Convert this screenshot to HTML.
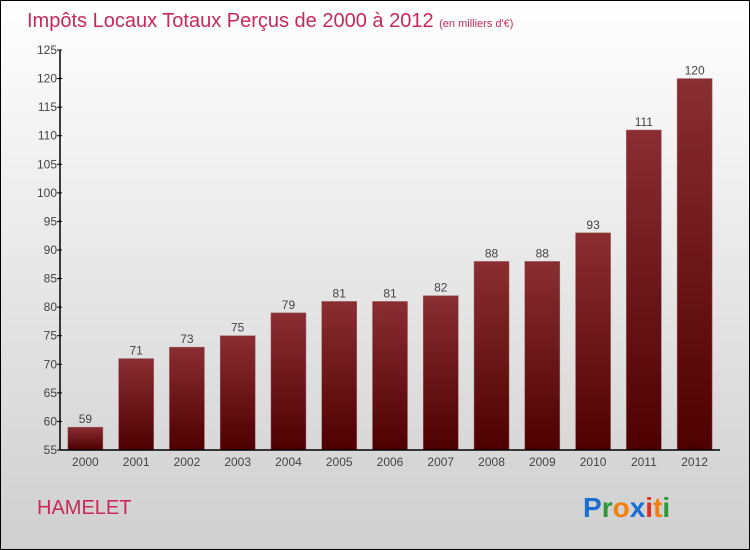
<!DOCTYPE html>
<html><head><meta charset="utf-8"><style>
body{margin:0}
#c{position:relative;width:748px;height:548px;border:1px solid #000;background:linear-gradient(#ffffff,#cfcfcf);overflow:hidden;font-family:"Liberation Sans",sans-serif}
</style></head><body>
<div id="c">
<svg id="s" width="748" height="548" style="position:absolute;left:0;top:0">
<defs><linearGradient id="bg" x1="0" y1="0" x2="0" y2="1"><stop offset="0" stop-color="#8a2e32"/><stop offset="1" stop-color="#4e0000"/></linearGradient></defs>
<text x="26" y="26" font-size="20" fill="#c8285a">Impôts Locaux Totaux Perçus de 2000 à 2012 <tspan font-size="11">(en milliers d'€)</tspan></text>
<text x="36" y="513" font-size="20" fill="#c8285a">HAMELET</text>
<g font-size="28" font-weight="bold">
<text x="582" y="516" fill="#1a6fd0">P<tspan fill="#2a9a3a">r</tspan><tspan fill="#f08010">o</tspan><tspan fill="#1a6fd0">x</tspan><tspan fill="#e03020">i</tspan><tspan fill="#f08010">t</tspan><tspan fill="#2a9a3a">i</tspan></text></g>
<g id="plot"></g>
</svg>
</div>
<script>
const categories=["2000","2001","2002","2003","2004","2005","2006","2007","2008","2009","2010","2011","2012"];
const values=[59,71,73,75,79,81,81,82,88,88,93,111,120];
const ticks=[55,60,65,70,75,80,85,90,95,100,105,110,115,120,125];
const x0=59,x1=719,y0=449,y1=49,vmin=55,vmax=125;
const ns="http://www.w3.org/2000/svg";
const g=document.getElementById('plot');
const bw=(x1-x0)/categories.length;
function ys(v){return y0-(v-vmin)/(vmax-vmin)*(y0-y1);}
function mk(t,a){const e=document.createElementNS(ns,t);for(const k in a)e.setAttribute(k,a[k]);g.appendChild(e);return e;}
categories.forEach((c,i)=>{
 const cx=x0+bw*(i+0.5),y=ys(values[i]);
 const r=mk('rect',{x:cx-17.5,y:y,width:35,height:y0-y,fill:'url(#bg)',stroke:'#a06060','stroke-width':0.5});
 
 
 const t=mk('text',{x:cx,y:y-4,'text-anchor':'middle','font-size':12,fill:'#444'});t.textContent=values[i];
 
 
 const l=mk('text',{x:cx,y:y0+16,'text-anchor':'middle','font-size':12,fill:'#444'});l.textContent=c;
 
 
});
ticks.forEach(v=>{
 const y=ys(v);
 mk('line',{x1:x0-3,x2:x0+2,y1:y,y2:y,stroke:'#000'});
 const t=mk('text',{x:x0-3,y:y+4,'text-anchor':'end','font-size':12,fill:'#444'});t.textContent=v;
 
 
});
const ya=mk('line',{x1:x0,x2:x0,y1:y1,y2:y0,stroke:'#000','stroke-width':1.5});


const xa=mk('line',{x1:x0,x2:x1,y1:y0,y2:y0,stroke:'#000','stroke-width':1.5});


</script>
</body></html>
